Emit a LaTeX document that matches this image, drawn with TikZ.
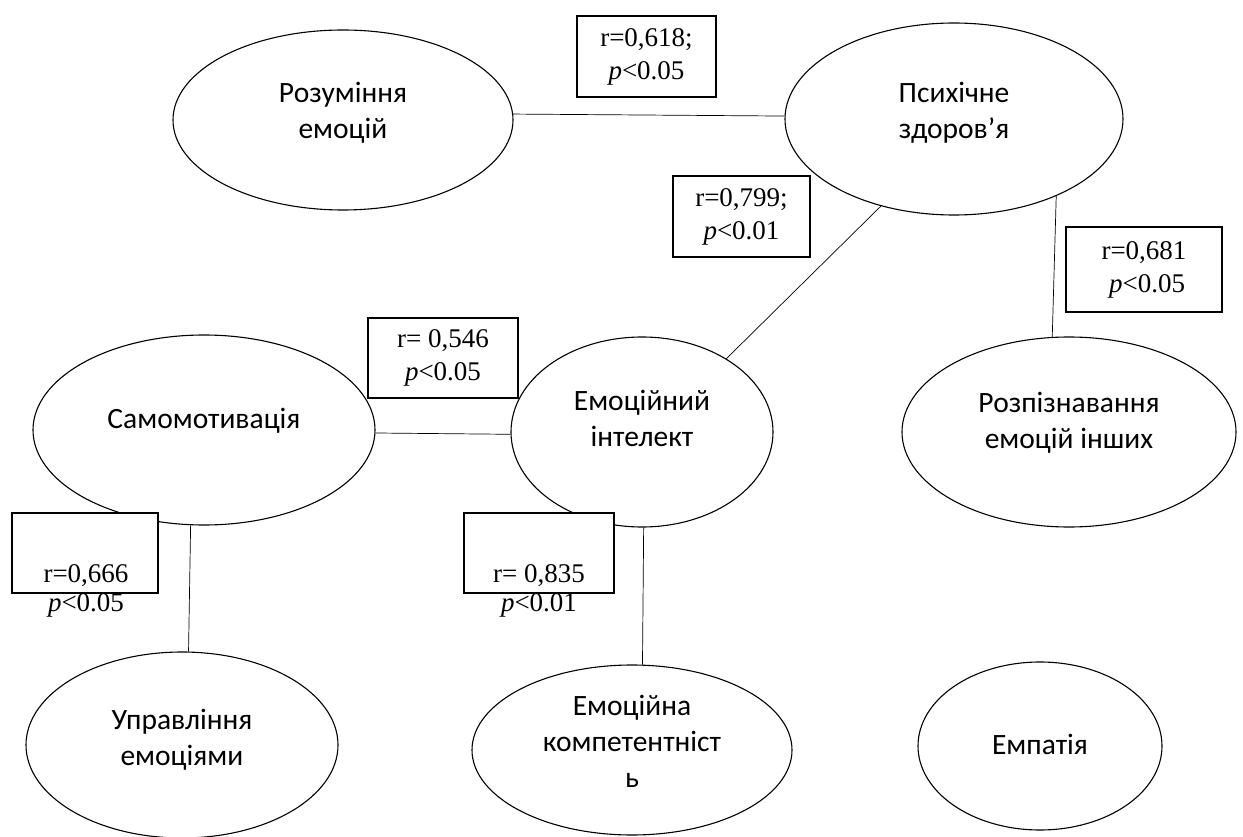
\documentclass[tikz,border=0pt]{standalone}
\usepackage{fontspec}
\setmainfont{Carlito}
\newfontfamily\tnr{Liberation Serif}
\usetikzlibrary{shapes.geometric}
\newcommand{\elltext}[2]{\raisebox{#1}[0pt][0pt]{\begin{tabular}[t]{@{}c@{}}#2\end{tabular}}}
\begin{document}
\begin{tikzpicture}[x=1pt,y=-1pt,
  ell/.style={ellipse, draw, line width=1.1pt, inner sep=0pt, font=\fontsize{29.5}{36}\selectfont},
  bx/.style={rectangle, draw, line width=1.4pt, fill=white, inner sep=0pt, align=center, font=\tnr\fontsize{27}{33}\selectfont},
  txt/.style={inner sep=0pt, align=center, font=\tnr\fontsize{27}{29}\selectfont},
  link/.style={line width=0.7pt}]
\useasboundingbox (0,0) rectangle (1243,837);
\fill[white] (0,0) rectangle (1243,837);
% ellipses
\node[ell, minimum width=340pt, minimum height=180pt] (E1) at (343,120) {\elltext{17pt}{Розуміння\\емоцій}};
\node[ell, minimum width=338pt, minimum height=192pt] (E2) at (954,119) {\elltext{16pt}{Психічне\\здоров’я}};
\node[ell, minimum width=342pt, minimum height=190pt] (E3) at (204,430) {\elltext{2pt}{Самомотивація}};
\node[ell, minimum width=262pt, minimum height=190pt] (E4) at (642,432) {\elltext{22pt}{Емоційний\\інтелект}};
\node[ell, minimum width=334pt, minimum height=190pt] (E5) at (1069,432) {\elltext{20pt}{Розпізнавання\\емоцій інших}};
\node[ell, minimum width=312pt, minimum height=186pt] (E6) at (182,745) {\elltext{16pt}{Управління\\емоціями}};
\node[ell, minimum width=320pt, minimum height=170pt] (E7) at (632,750) {\elltext{35pt}{Емоційна\\компетентніст\\ь}};
\node[ell, minimum width=244pt, minimum height=168pt] (E8) at (1040,746) {\elltext{-8pt}{Емпатія}};
% connectors
\draw[link] (E1.2) -- (E2.179);
\draw[link] (E2.230) -- (E4.41);
\draw[link] (E2.323) -- (E5.100);
\draw[link] (E3.359) -- (E4.181);
\draw[link] (E3.262) -- (E6.86);
\draw[link] (E4.271) -- (E7.83);
% boxes
\node[bx, minimum width=139pt, minimum height=81pt] (B1) at (646.5,56.5) {r=0,618;\\\textit{p}<0.05};
\node[bx, minimum width=137pt, minimum height=81pt] (B2) at (741.5,216.5) {r=0,799;\\\textit{p}<0.01};
\node[bx, minimum width=156pt, minimum height=85pt] (B3) at (1144,269.5) {r=0,681\\\hspace*{6pt}\textit{p}<0.05};
\node[bx, minimum width=150pt, minimum height=80pt] (B4) at (443,358) {r= 0,546\\\textit{p}<0.05};
\node[bx, minimum width=146pt, minimum height=80pt] (B5) at (85,553) {};
\node[bx, minimum width=150pt, minimum height=80pt] (B6) at (539,553) {};
\node[txt, anchor=base] (T5) at (86,611) {r=0,666\\\textit{p}<0.05};
\node[txt, anchor=base] (T6) at (539,611) {r= 0,835\\\textit{p}<0.01};
\end{tikzpicture}
\end{document}
